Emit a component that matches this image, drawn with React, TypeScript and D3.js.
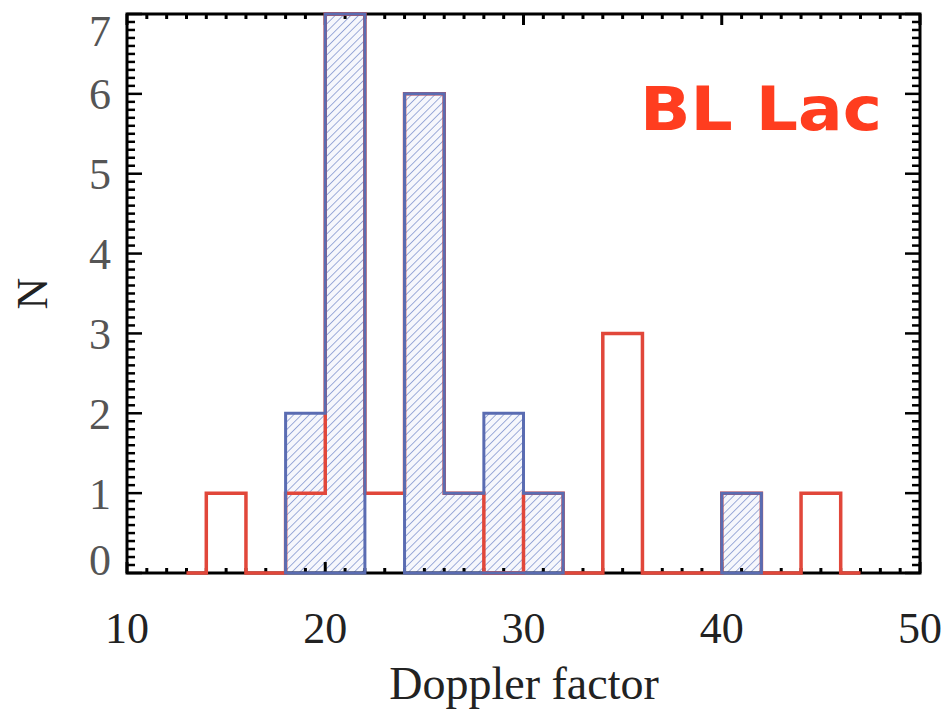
import React from "react";
import * as d3 from "d3";

const binStarts = [14, 16, 18, 20, 22, 24, 26, 28, 30, 32, 34, 36, 38, 40, 42, 44];
const binWidth = 2;
const redCounts = [1, 0, 1, 7, 1, 6, 1, 0, 1, 0, 3, 0, 0, 1, 0, 1];
const blueCounts = [0, 0, 2, 7, 0, 6, 1, 2, 1, 0, 0, 0, 0, 1, 0, 0];
const xTicks = [10, 20, 30, 40, 50];
const yTicks = [0, 1, 2, 3, 4, 5, 6, 7];
const xLabel = "Doppler factor";
const yLabel = "N";
const title = "BL Lac";

const W = 947;
const H = 713;
const L = 127, R = 920, T = 14, B = 573;

export default function App() {
  const x = d3.scaleLinear().domain([10, 50]).range([L, R]);
  const y = d3.scaleLinear().domain([0, 7]).range([B, T]);

  const redPts: [number, number][] = [];
  redPts.push([binStarts[0] - binWidth / 2, 0]);
  binStarts.forEach((s, i) => {
    redPts.push([s, redCounts[i]]);
  });
  redPts.push([binStarts[binStarts.length - 1] + binWidth, 0]);
  redPts.push([binStarts[binStarts.length - 1] + binWidth * 1.5, 0]);
  const stair = d3
    .line<[number, number]>()
    .x((d) => x(d[0]))
    .y((d) => y(d[1]))
    .curve(d3.curveStepAfter);
  const redPath = stair(redPts) || "";

  const runs: { s: number; e: number }[] = [];
  let cur: { s: number; e: number } | null = null;
  blueCounts.forEach((c, i) => {
    if (c > 0) {
      if (!cur) cur = { s: i, e: i };
      else cur.e = i;
    } else if (cur) {
      runs.push(cur);
      cur = null;
    }
  });
  if (cur) runs.push(cur);
  const bluePaths = runs.map((r) => {
    const pts: [number, number][] = [[binStarts[r.s], 0]];
    for (let i = r.s; i <= r.e; i++) pts.push([binStarts[i], blueCounts[i]]);
    pts.push([binStarts[r.e] + binWidth, 0]);
    return (stair(pts) || "") + "Z";
  });

  const xMinor = d3.range(10, 51, 1);
  const yMinor = d3.range(0, 7.001, 0.1);

  return (
    <svg width={W} height={H} style={{ position: "absolute", left: 0, top: 0, background: "#fff" }}>
      <defs>
        <pattern id="hatch" patternUnits="userSpaceOnUse" width="5.5" height="5.5" patternTransform="rotate(45)">
          <rect width="5.5" height="5.5" fill="#f6f7fc" />
          <line x1="0" y1="0" x2="0" y2="5.5" stroke="#93a4d6" strokeWidth="1.8" />
        </pattern>
      </defs>

      {bluePaths.map((p, i) => (
        <path key={"bf" + i} d={p} fill="url(#hatch)" stroke="none" />
      ))}

      <rect x={L} y={T} width={R - L} height={B - T} fill="none" stroke="#000" strokeWidth={3} />

      {xMinor.map((v) => {
        const major = v % 10 === 0;
        const len = major ? 11 : 5;
        return (
          <g key={"xt" + v}>
            <line x1={x(v)} x2={x(v)} y1={B} y2={B - len} stroke="#000" strokeWidth={3} />
            <line x1={x(v)} x2={x(v)} y1={T} y2={T + len} stroke="#000" strokeWidth={3} />
          </g>
        );
      })}
      {yMinor.map((v, i) => {
        const major = i % 10 === 0;
        const len = major ? 15 : 8;
        return (
          <g key={"yt" + i}>
            <line x1={L} x2={L + len} y1={y(v)} y2={y(v)} stroke="#000" strokeWidth={2.5} />
            <line x1={R} x2={R - len} y1={y(v)} y2={y(v)} stroke="#000" strokeWidth={2.5} />
          </g>
        );
      })}

      <path d={redPath} fill="none" stroke="#e1473a" strokeWidth={3.5} strokeLinejoin="miter" />

      {bluePaths.map((p, i) => (
        <path key={"bo" + i} d={p} fill="none" stroke="#5a6cb2" strokeWidth={3} strokeLinejoin="miter" />
      ))}

      {xTicks.map((v) => (
        <text key={"xl" + v} x={x(v)} y={643} textAnchor="middle" fontFamily="Liberation Serif" fontSize={44} fill="#222">
          {v}
        </text>
      ))}
      {yTicks.map((v) => {
        let cy = y(v);
        if (v === 0) cy -= 13;
        if (v === 7) cy += 17;
        return (
          <text key={"yl" + v} x={111} y={cy} dy="0.35em" textAnchor="end" fontFamily="Liberation Serif" fontSize={44} fill="#555">
            {v}
          </text>
        );
      })}

      <text x={524} y={699} textAnchor="middle" fontFamily="Liberation Serif" fontSize={46} fill="#222">
        {xLabel}
      </text>
      <text transform={`translate(47,${(T + B) / 2}) rotate(-90)`} textAnchor="middle" fontFamily="Liberation Serif" fontSize={44} fill="#222">
        {yLabel}
      </text>

      <text x={640} y={130} fontFamily="DejaVu Sans" fontWeight="bold" fontSize={60} fill="#ff3d1f" textLength={242} lengthAdjust="spacingAndGlyphs">
        {title}
      </text>
    </svg>
  );
}
